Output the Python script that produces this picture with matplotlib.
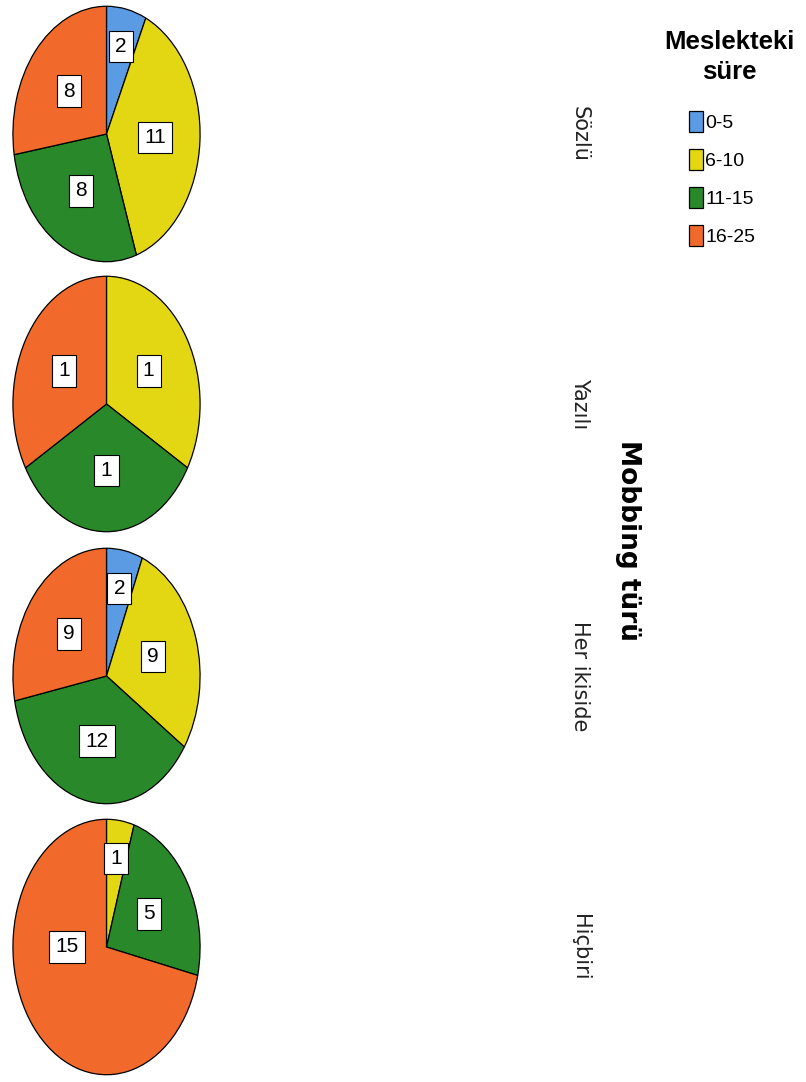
import numpy as np
import matplotlib
matplotlib.use("Agg")
import matplotlib.pyplot as plt
from matplotlib.patches import Patch

# Counts per "Mobbing türü" (rows) and "Meslekteki süre" group (wedges)
GROUPS = ["0-5", "6-10", "11-15", "16-25"]
COLORS = ["#5a9be4", "#e3d713", "#29892a", "#f26a2b"]
ROWS = ["Sözlü", "Yazılı", "Her ikiside", "Hiçbiri"]
SOZLU = [2, 11, 8, 8]
YAZILI = [0, 1, 1, 1]
HER_IKISIDE = [2, 9, 12, 9]
HICBIRI = [0, 1, 5, 15]
COUNTS = [SOZLU, YAZILI, HER_IKISIDE, HICBIRI]

SANS = ["Liberation Sans", "DejaVu Sans"]

W, H = 806, 1082
fig = plt.figure(figsize=(W / 100, H / 100), dpi=100)

# pixel boxes of each pie (top, bottom)
pie_tops = [5, 275, 547, 818]
pie_h = 258
pie_left, pie_w = 12, 189

for top, label, vals in zip(pie_tops, ROWS, COUNTS):
    ax = fig.add_axes([pie_left / W, 1 - (top + pie_h) / H, pie_w / W, pie_h / H])
    vals = np.array(vals, dtype=float)
    keep = vals > 0
    v = vals[keep]
    cols = [c for c, k in zip(COLORS, keep) if k]
    ax.pie(v, colors=cols, startangle=90, counterclock=False,
           wedgeprops=dict(edgecolor="black", linewidth=0.9))
    ax.set_aspect("auto")
    ax.set_xlim(-1.01, 1.01)
    ax.set_ylim(-1.01, 1.01)

    # value labels in white boxes
    frac = v / v.sum()
    start = 0.0
    for f, n in zip(frac, v):
        span = f * 360
        mid_deg = start + span / 2
        if span > 180:
            # very large wedge: SPSS puts the label on the horizontal
            mid_deg = 270.0
            r = 0.42
        else:
            r = 0.52 if span > 60 else 0.7
        mid = np.deg2rad(mid_deg)
        ax.text(r * np.sin(mid), r * np.cos(mid), f"{int(n)}",
                ha="center", va="center", fontsize=15, family=SANS,
                bbox=dict(boxstyle="square,pad=0.3", fc="white", ec="black", lw=0.8))
        start += span

    cy = top + pie_h / 2
    fig.text(580 / W, 1 - cy / H, label, rotation=-90, ha="center", va="center",
             fontsize=15, family="DejaVu Sans", color="#222222")

fig.text(628 / W, 1 - 540 / H, "Mobbing türü", rotation=-90, ha="center", va="center",
         fontsize=19, fontweight="bold", family="DejaVu Sans")

# legend
fig.text(729 / W, 1 - 57 / H, "Meslekteki\nsüre", ha="center", va="center",
         fontsize=18.5, fontweight="bold", family=SANS, linespacing=1.3)
handles = [Patch(facecolor=c, edgecolor="black", linewidth=0.9) for c in COLORS]
fig.legend(handles, GROUPS, loc="upper left", bbox_to_anchor=(689 / W, 1 - 111 / H),
           frameon=False, borderpad=0, borderaxespad=0, handlelength=0.72,
           handleheight=1.3, handletextpad=0.12, labelspacing=0.86,
           prop=dict(family=SANS, size=14))

fig.savefig("out.png", dpi=100)
